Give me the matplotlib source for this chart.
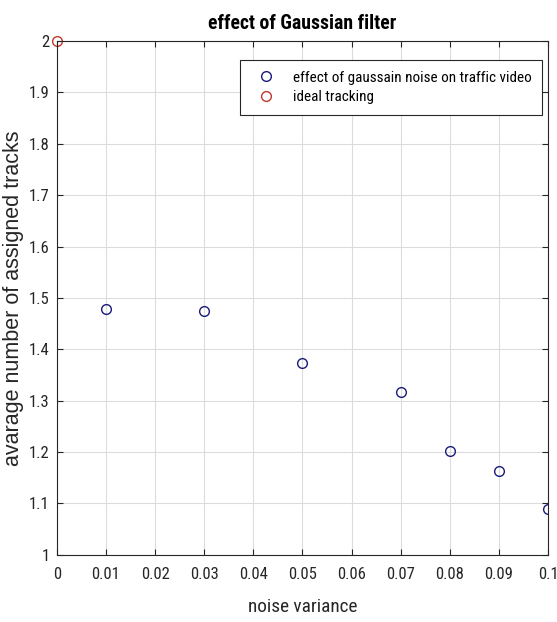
import numpy as np
import matplotlib.pyplot as plt
from matplotlib import font_manager as fm

# condensed sans for the horizontal texts, regular sans for the y label
installed = {f.name for f in fm.fontManager.ttflist}
narrow = next((n for n in ['Liberation Sans Narrow', 'Roboto Condensed',
                           'Archivo Narrow', 'Barlow Semi Condensed']
               if n in installed), 'Liberation Sans')
plt.rcParams['font.family'] = [narrow, 'DejaVu Sans']

# noise variance vs. average assigned tracks
noise_var = [0.01, 0.03, 0.05, 0.07, 0.08, 0.09, 0.1]
avg_tracks = [1.479, 1.475, 1.374, 1.317, 1.203, 1.163, 1.09]
ideal_x = [0]
ideal_y = [2]

xtick_labels = ['0', '0.01', '0.02', '0.03', '0.04', '0.05', '0.06',
                '0.07', '0.08', '0.09', '0.1']
ytick_labels = ['1', '1.1', '1.2', '1.3', '1.4', '1.5', '1.6', '1.7',
                '1.8', '1.9', '2']

fig = plt.figure(figsize=(5.57, 6.22), dpi=100)
ax = fig.add_axes([0.102, 0.108, 0.882, 0.826])

ax.plot(noise_var, avg_tracks, 'o', mfc='none', mec='#1a1a7a', mew=1.0,
        markersize=7, label='effect of gaussain noise on traffic video')
ax.plot(ideal_x, ideal_y, 'o', mfc='none', mec='#c0392b', mew=1.0,
        markersize=7, label='ideal tracking', clip_on=False)

ax.set_xlim(0, 0.1)
ax.set_ylim(1, 2)
ax.set_xticks(np.linspace(0, 0.1, 11))
ax.set_xticklabels(xtick_labels)
ax.set_yticks(np.linspace(1, 2, 11))
ax.set_yticklabels(ytick_labels)
ax.tick_params(direction='in', top=True, right=True, labelsize=12,
               colors='#262626', length=4)
ax.tick_params(axis='x', pad=9)
ax.tick_params(axis='y', pad=5)
for s in ax.spines.values():
    s.set_color('#262626')
    s.set_linewidth(0.8)
ax.grid(True, color='#dcdcdc', linewidth=0.8)

ax.set_title('effect of Gaussian filter', fontsize=14.2, fontweight='bold', pad=9)
ax.set_xlabel('noise variance', fontsize=13.9, color='#262626', labelpad=11)
ax.set_ylabel('avarage number of assigned tracks', fontsize=15.5,
              color='#262626', family=['Liberation Sans', 'DejaVu Sans'], labelpad=4)

leg = ax.legend(loc='upper right', bbox_to_anchor=(0.988, 0.963), fontsize=10.9,
                fancybox=False, edgecolor='#262626', framealpha=1,
                handletextpad=0.8, borderpad=0.7, labelspacing=0.35,
                handlelength=2.0, borderaxespad=0)
leg.get_frame().set_linewidth(0.8)

plt.savefig('out.png', dpi=100)
